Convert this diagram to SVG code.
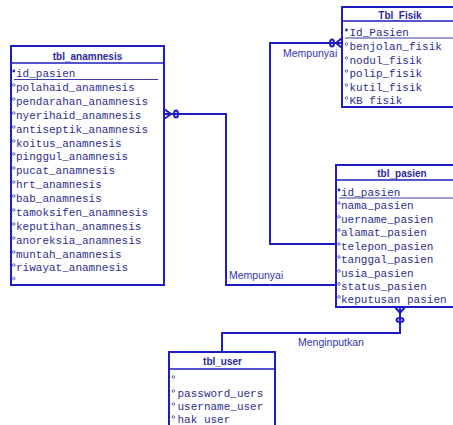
<svg xmlns="http://www.w3.org/2000/svg" width="453" height="425" viewBox="0 0 453 425">
<style>
.box{fill:#fff;stroke:#1c1cc0;stroke-width:2}
.hl{stroke:#1c1cc0;stroke-width:1.5}
.ul{stroke:#3a3aa8;stroke-width:1}
.title{font-family:"Liberation Sans",Arial,sans-serif;font-weight:bold;font-size:10px;fill:#2a2a9c;text-anchor:middle}
.f{font-family:"Liberation Mono","Courier New",monospace;font-size:11px;fill:#2e2e8e}
.mk{fill:#fff;stroke:#4a4aa0;stroke-width:0.8}
.pk{fill:#2a2a9c}
.conn{fill:none;stroke:#1c1cc0;stroke-width:2}
.lbl{font-family:"Liberation Sans",Arial,sans-serif;font-size:10.5px;fill:#3535b0}
</style>
<rect width="453" height="425" fill="#fff"/>

<g id="connectors">
  <polyline class="conn" points="164,114 226,114 226,285 336,285"/>
  <polyline class="conn" points="164,109 171,114 164,119"/>
  <ellipse class="conn" cx="176" cy="114" rx="2" ry="3.5" stroke-width="1.6"/>
  <polyline class="conn" points="342,43 270,43 270,244 336,244"/>
  <polyline class="conn" points="342,38 336,43 342,48"/>
  <ellipse class="conn" cx="332" cy="43" rx="2" ry="3.5" stroke-width="1.6"/>
  <polyline class="conn" points="400,307 400,333 222,333 222,352"/>
  <polyline class="conn" points="395,307 400,313 405,307"/>
  <ellipse class="conn" cx="400" cy="320" rx="3.5" ry="2" stroke-width="1.6"/>
  <text class="lbl" x="283" y="57">Mempunyai</text>
  <text class="lbl" x="229" y="279">Mempunyai</text>
  <text class="lbl" x="298" y="346">Menginputkan</text>
</g>

<g id="tbl_anamnesis">
  <rect class="box" x="11" y="46" width="153" height="239"/>
  <line class="hl" x1="11" y1="63" x2="164" y2="63"/>
  <text class="title" x="87.5" y="59.5">tbl_anamnesis</text>
  <circle class="pk" cx="13.8" cy="71" r="1.4"/>
  <text class="f" x="16" y="77">id_pasien</text>
  <line class="ul" x1="14" y1="79.5" x2="158" y2="79.5"/>
  <circle class="mk" cx="13.8" cy="85" r="1.3"/><text class="f" x="16" y="91">polahaid_anamnesis</text>
  <circle class="mk" cx="13.8" cy="99" r="1.3"/><text class="f" x="16" y="105">pendarahan_anamnesis</text>
  <circle class="mk" cx="13.8" cy="113" r="1.3"/><text class="f" x="16" y="119">nyerihaid_anamnesis</text>
  <circle class="mk" cx="13.8" cy="127" r="1.3"/><text class="f" x="16" y="133">antiseptik_anamnesis</text>
  <circle class="mk" cx="13.8" cy="141" r="1.3"/><text class="f" x="16" y="147">koitus_anamnesis</text>
  <circle class="mk" cx="13.8" cy="154" r="1.3"/><text class="f" x="16" y="160">pinggul_anamnesis</text>
  <circle class="mk" cx="13.8" cy="168" r="1.3"/><text class="f" x="16" y="174">pucat_anamnesis</text>
  <circle class="mk" cx="13.8" cy="182" r="1.3"/><text class="f" x="16" y="188">hrt_anamnesis</text>
  <circle class="mk" cx="13.8" cy="196" r="1.3"/><text class="f" x="16" y="202">bab_anamnesis</text>
  <circle class="mk" cx="13.8" cy="210" r="1.3"/><text class="f" x="16" y="216">tamoksifen_anamnesis</text>
  <circle class="mk" cx="13.8" cy="224" r="1.3"/><text class="f" x="16" y="230">keputihan_anamnesis</text>
  <circle class="mk" cx="13.8" cy="238" r="1.3"/><text class="f" x="16" y="244">anoreksia_anamnesis</text>
  <circle class="mk" cx="13.8" cy="252" r="1.3"/><text class="f" x="16" y="258">muntah_anamnesis</text>
  <circle class="mk" cx="13.8" cy="265" r="1.3"/><text class="f" x="16" y="271">riwayat_anamnesis</text>
  <circle class="mk" cx="13.8" cy="278.5" r="1.3"/>
</g>

<g id="Tbl_Fisik">
  <rect class="box" x="342" y="7" width="130" height="100"/>
  <line class="hl" x1="342" y1="21" x2="460" y2="21"/>
  <text class="title" x="400" y="18.5">Tbl_Fisik</text>
  <circle class="pk" cx="346.5" cy="30" r="1.4"/>
  <text class="f" x="349.5" y="36">Id_Pasien</text>
  <line class="ul" x1="345" y1="38" x2="460" y2="38"/>
  <circle class="mk" cx="346.5" cy="44" r="1.3"/><text class="f" x="349.5" y="50">benjolan_fisik</text>
  <circle class="mk" cx="346.5" cy="58" r="1.3"/><text class="f" x="349.5" y="64">nodul_fisik</text>
  <circle class="mk" cx="346.5" cy="71" r="1.3"/><text class="f" x="349.5" y="77">polip_fisik</text>
  <circle class="mk" cx="346.5" cy="85" r="1.3"/><text class="f" x="349.5" y="91">kutil_fisik</text>
  <circle class="mk" cx="346.5" cy="98" r="1.3"/><text class="f" x="349.5" y="104">KB fisik</text>
</g>

<g id="tbl_pasien">
  <rect class="box" x="336" y="165" width="135" height="142"/>
  <line class="hl" x1="336" y1="180" x2="460" y2="180"/>
  <text class="title" x="402" y="176.5">tbl_pasien</text>
  <circle class="pk" cx="339" cy="190" r="1.4"/>
  <text class="f" x="341" y="196">id_pasien</text>
  <line class="ul" x1="339" y1="198" x2="460" y2="198"/>
  <circle class="mk" cx="339" cy="203" r="1.3"/><text class="f" x="341" y="209">nama_pasien</text>
  <circle class="mk" cx="339" cy="217" r="1.3"/><text class="f" x="341" y="223">uername_pasien</text>
  <circle class="mk" cx="339" cy="230" r="1.3"/><text class="f" x="341" y="236">alamat_pasien</text>
  <circle class="mk" cx="339" cy="244" r="1.3"/><text class="f" x="341" y="250">telepon_pasien</text>
  <circle class="mk" cx="339" cy="257" r="1.3"/><text class="f" x="341" y="263">tanggal_pasien</text>
  <circle class="mk" cx="339" cy="271" r="1.3"/><text class="f" x="341" y="277">usia_pasien</text>
  <circle class="mk" cx="339" cy="284" r="1.3"/><text class="f" x="341" y="290">status_pasien</text>
  <circle class="mk" cx="339" cy="297" r="1.3"/><text class="f" x="341" y="303">keputusan pasien</text>
</g>

<g id="tbl_user">
  <rect class="box" x="169" y="352" width="106" height="90"/>
  <line class="hl" x1="169" y1="369" x2="275" y2="369"/>
  <text class="title" x="222.5" y="365">tbl_user</text>
  <circle class="mk" cx="173.3" cy="377" r="1.3"/>
  <circle class="mk" cx="173.3" cy="391" r="1.3"/><text class="f" x="177.5" y="397">password_uers</text>
  <circle class="mk" cx="173.3" cy="404" r="1.3"/><text class="f" x="177.5" y="410">username_user</text>
  <circle class="mk" cx="173.3" cy="417" r="1.3"/><text class="f" x="177.5" y="423">hak user</text>
</g>
</svg>
